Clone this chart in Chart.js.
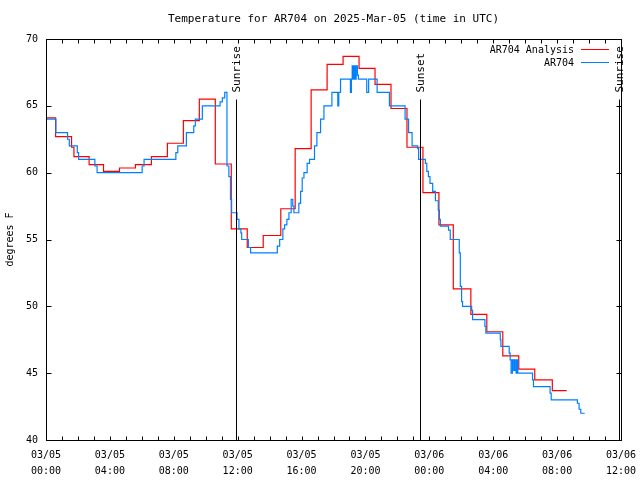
<!DOCTYPE html>
<html>
<head>
<meta charset="utf-8">
<script src="https://cdn.jsdelivr.net/npm/chart.js@4/dist/chart.umd.min.js"></script>
<style>
  body { margin: 0; background: #fff; }
  #wrap { width: 640px; height: 480px; }
</style>
</head>
<body>
<div id="wrap"><canvas id="tempChart" width="640" height="480"></canvas></div>
<script>
// hours since 03/05 00:00 UTC
const analysisHours = [0, 0.6, 1.6, 1.75, 2.7, 3.6, 4.6, 5.6, 6.6, 7.6, 8.6, 9.6, 10.6, 11.6, 12.6, 13.6, 14.7, 15.6, 16.6, 17.6, 18.6, 19.6, 20.6, 21.6, 22.6, 23.6, 24.6, 25.5, 26.6, 27.6, 28.6, 29.6, 30.6, 31.7, 32.6];
const analysisTemps = [64.1, 62.7, 61.9, 61.2, 60.6, 60.1, 60.35, 60.6, 61.2, 62.2, 63.9, 65.5, 60.65, 55.8, 54.4, 55.3, 57.3, 61.8, 66.2, 68.1, 68.7, 67.8, 66.6, 64.8, 61.9, 58.5, 56.1, 51.3, 49.4, 48.1, 46.3, 45.3, 44.5, 43.7, 43.7];

const obsHours = [0, 0.62, 1.35, 1.46, 1.96, 2.04, 3.06, 3.2, 6.02, 6.14, 8.13, 8.25, 8.79, 9.25, 9.35, 9.79, 10.9, 11.04, 11.19,
  11.33, 11.45, 11.55, 11.62, 11.96, 12.08, 12.2, 12.25, 12.67, 12.81, 14.48, 14.63, 14.83, 14.94, 15.08, 15.21, 15.35, 15.45, 15.52,
  15.83, 15.94, 16.04, 16.15, 16.35, 16.5, 16.81, 16.96, 17.19, 17.4, 17.9, 18.27, 18.33, 18.44, 19.06, 19.12, 19.17, 19.24, 19.3,
  19.36, 19.42, 19.5, 19.56, 20.08, 20.2, 20.73, 21.5, 22.48, 22.7, 22.92, 23.27, 23.33, 23.75, 23.84, 23.94, 24.04, 24.21, 24.38,
  24.56, 24.63, 24.69, 25.2, 25.31, 25.875, 25.94, 26.02, 26.08, 26.65, 26.71, 27.48, 27.54, 28.44, 28.48, 29.0, 29.06, 29.12, 29.2,
  29.28, 29.35, 29.43, 29.48, 29.54, 30.46, 30.52, 31.56, 31.63, 33.27, 33.375, 33.48, 33.73];
const obsTemps = [64.0, 63.0, 62.5, 62.0, 61.5, 61.0, 60.5, 60.0, 60.5, 61.0, 61.5, 62.0, 63.0, 63.5, 64.0, 65.0, 65.3, 65.6, 66.0,
  60.5, 59.7, 58.0, 57.0, 56.5, 55.8, 55.5, 55.0, 54.4, 54.0, 54.5, 55.0, 55.8, 56.1, 56.5, 57.0, 58.0, 57.5, 57.0,
  57.7, 58.6, 59.6, 60.0, 60.7, 61.0, 62.0, 63.0, 64.0, 65.0, 66.0, 65.0, 66.0, 67.0, 66.0, 67.0, 68.0, 67.0, 68.0,
  67.0, 68.0, 67.3, 67.0, 66.0, 67.0, 66.0, 65.0, 64.0, 63.0, 62.0, 61.8, 61.0, 60.7, 60.1, 59.7, 59.2, 58.6, 57.9,
  57.2, 56.5, 56.0, 55.7, 55.0, 54.0, 51.5, 50.35, 50.0, 49.7, 49.0, 48.5, 48.0, 47.5, 47.0, 46.5, 46.0, 45.0, 46.0,
  45.2, 46.0, 45.0, 46.0, 45.0, 44.5, 44.0, 43.5, 43.0, 42.75, 42.3, 42.0, 42.0];

const sunHours = [11.9, 23.4, 35.85];
const sunLabels = ['Sunrise', 'Sunset', 'Sunrise'];

const xTickLabels = [
  ['03/05', '00:00'], ['03/05', '04:00'], ['03/05', '08:00'], ['03/05', '12:00'], ['03/05', '16:00'],
  ['03/05', '20:00'], ['03/06', '00:00'], ['03/06', '04:00'], ['03/06', '08:00'], ['03/06', '12:00']
];
const yTicks = [40, 45, 50, 55, 60, 65, 70];

const seriesNames = ['AR704 Analysis', 'AR704'];
const seriesColors = ['#ff0000', '#0080ff'];

const MONO = '"DejaVu Sans Mono", "Liberation Mono", monospace';

function toPoints(xs, ys) {
  return xs.map((h, i) => ({ x: h, y: ys[i] }));
}

// gnuplot-like frame, inward ticks, sunrise/sunset marks, title and key
const gnuplotDecor = {
  id: 'gnuplotDecor',
  afterDatasetsDraw(chart) {
    const { ctx, chartArea: a, scales: { x, y } } = chart;
    const L = Math.round(a.left) + 0.5, R = Math.round(a.right) + 0.5;
    const T = Math.round(a.top) + 0.5, B = Math.round(a.bottom) + 0.5;
    ctx.save();
    ctx.strokeStyle = '#000';
    ctx.fillStyle = '#000';
    ctx.lineWidth = 1;

    // sunrise / sunset lines
    ctx.font = '11px ' + MONO;
    sunHours.forEach((h, i) => {
      const px = Math.round(x.getPixelForValue(h)) + 0.5;
      ctx.beginPath();
      ctx.moveTo(px, T + 60);
      ctx.lineTo(px, B);
      ctx.stroke();
      ctx.save();
      ctx.translate(px + 1, T + 53);
      ctx.rotate(-Math.PI / 2);
      ctx.textAlign = 'left';
      ctx.textBaseline = 'middle';
      ctx.fillText(sunLabels[i], 0, 0);
      ctx.restore();
    });

    // frame
    ctx.strokeRect(L, T, R - L, B - T);

    // hourly ticks, inward, top and bottom
    ctx.beginPath();
    for (let h = 0; h <= 36; h++) {
      const px = Math.round(x.getPixelForValue(h)) + 0.5;
      ctx.moveTo(px, B); ctx.lineTo(px, B - 4);
      ctx.moveTo(px, T); ctx.lineTo(px, T + 4);
    }
    yTicks.forEach(v => {
      const py = Math.round(y.getPixelForValue(v)) + 0.5;
      ctx.moveTo(L, py); ctx.lineTo(L + 5, py);
      ctx.moveTo(R, py); ctx.lineTo(R - 5, py);
    });
    ctx.stroke();

    // title
    ctx.font = '11px ' + MONO;
    ctx.textAlign = 'center';
    ctx.textBaseline = 'middle';
    ctx.fillText('Temperature for AR704 on 2025-Mar-05 (time in UTC)', (a.left + a.right) / 2, 19);

    // y axis title
    ctx.save();
    ctx.font = '10px ' + MONO;
    ctx.translate(10, (a.top + a.bottom) / 2);
    ctx.rotate(-Math.PI / 2);
    ctx.fillText('degrees F', 0, 0);
    ctx.restore();

    // key
    ctx.font = '10px ' + MONO;
    ctx.textAlign = 'right';
    seriesNames.forEach((name, i) => {
      const ky = 50 + i * 13;
      ctx.fillStyle = '#000';
      ctx.fillText(name, 574, ky + 0.5);
      ctx.strokeStyle = seriesColors[i];
      ctx.beginPath();
      ctx.moveTo(581, ky - 0.5);
      ctx.lineTo(609, ky - 0.5);
      ctx.stroke();
    });
    ctx.restore();
  }
};

const ctx = document.getElementById('tempChart').getContext('2d');
const tempChart = new Chart(ctx, {
  type: 'line',
  data: {
    datasets: [{
      label: seriesNames[0],
      data: toPoints(analysisHours, analysisTemps),
      borderColor: seriesColors[0],
      borderWidth: 1.2,
      stepped: true,
      pointRadius: 0,
      order: 1
    }, {
      label: seriesNames[1],
      data: toPoints(obsHours, obsTemps),
      borderColor: seriesColors[1],
      borderWidth: 1.2,
      stepped: true,
      pointRadius: 0,
      order: 0
    }]
  },
  options: {
    responsive: false,
    animation: false,
    devicePixelRatio: 1,
    layout: { padding: { left: 0, right: 19, top: 39, bottom: 0 } },
    plugins: {
      legend: { display: false },
      title: { display: false },
      tooltip: { enabled: false }
    },
    scales: {
      x: {
        type: 'linear',
        min: 0,
        max: 36,
        grid: { display: false, drawTicks: false },
        border: { display: false },
        afterFit: scale => {
          scale.height = 40;
          scale.paddingLeft = 0;
          scale.paddingRight = 0;
        },
        ticks: {
          stepSize: 4,
          autoSkip: false,
          maxRotation: 0,
          padding: 7,
          color: '#000',
          font: { family: MONO, size: 10, lineHeight: 1.6 },
          callback: (v) => xTickLabels[Math.round(v / 4)]
        }
      },
      y: {
        min: 40,
        max: 70,
        grid: { display: false, drawTicks: false },
        border: { display: false },
        afterFit: scale => {
          scale.width = 46;
          scale.paddingTop = 0;
          scale.paddingBottom = 0;
        },
        ticks: {
          stepSize: 5,
          padding: 8,
          color: '#000',
          font: { family: MONO, size: 10 }
        }
      }
    }
  },
  plugins: [gnuplotDecor]
});
</script>
</body>
</html>
